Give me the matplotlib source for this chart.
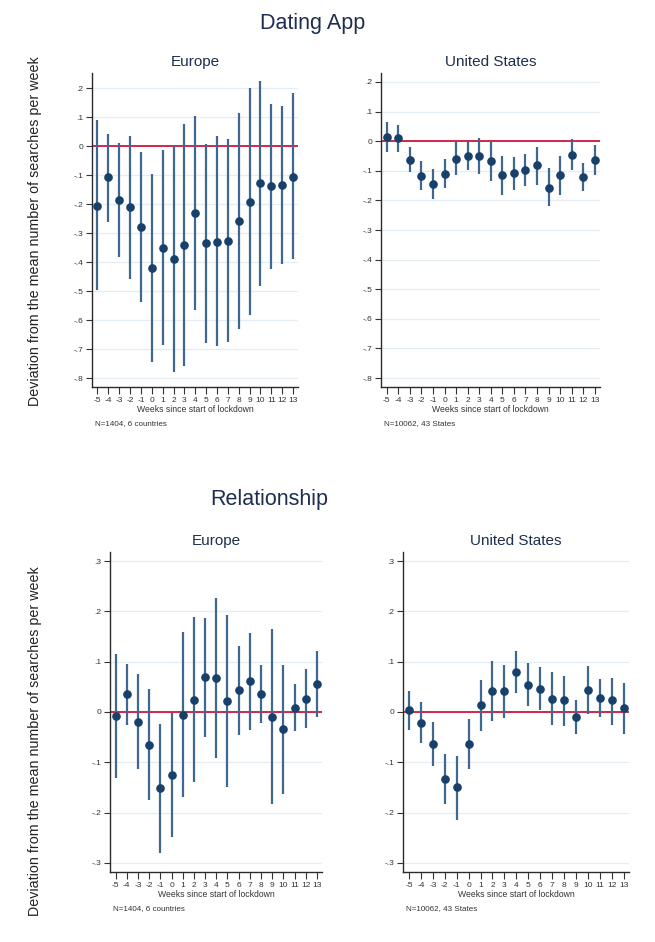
import matplotlib
matplotlib.use("Agg")
import matplotlib.pyplot as plt
import numpy as np

plt.rcParams['font.family'] = ['Liberation Sans', 'DejaVu Sans']

weeks = list(range(-5, 14))

# Dating App - Europe
dating_eu = [-0.205, -0.108, -0.187, -0.211, -0.278, -0.421, -0.350, -0.390, -0.342, -0.231,
             -0.336, -0.330, -0.328, -0.260, -0.193, -0.129, -0.139, -0.134, -0.105]
dating_eu_hi = [0.089, 0.040, 0.010, 0.033, -0.020, -0.095, -0.013, 0.001, 0.075, 0.103,
                0.008, 0.034, 0.026, 0.113, 0.199, 0.223, 0.144, 0.139, 0.183]
dating_eu_lo = [-0.496, -0.261, -0.384, -0.457, -0.538, -0.745, -0.686, -0.780, -0.760, -0.567,
                -0.680, -0.691, -0.676, -0.632, -0.583, -0.482, -0.423, -0.407, -0.390]

# Dating App - United States
dating_us = [0.014, 0.010, -0.063, -0.118, -0.145, -0.112, -0.060, -0.050, -0.051, -0.068,
             -0.114, -0.108, -0.097, -0.082, -0.157, -0.115, -0.047, -0.122, -0.064]
dating_us_hi = [0.063, 0.056, -0.020, -0.068, -0.094, -0.062, 0.000, 0.000, 0.009, 0.000,
                -0.049, -0.052, -0.043, -0.019, -0.092, -0.051, 0.006, -0.073, -0.014]
dating_us_lo = [-0.036, -0.036, -0.104, -0.166, -0.194, -0.158, -0.116, -0.099, -0.111, -0.133,
                -0.182, -0.165, -0.153, -0.147, -0.220, -0.182, -0.099, -0.169, -0.115]

# Relationship - Europe
rel_eu = [-0.007, 0.035, -0.019, -0.066, -0.152, -0.125, -0.005, 0.024, 0.070, 0.068,
          0.022, 0.043, 0.061, 0.036, -0.009, -0.034, 0.008, 0.026, 0.055]
rel_eu_hi = [0.116, 0.095, 0.075, 0.045, -0.023, -0.001, 0.159, 0.188, 0.187, 0.226,
             0.192, 0.131, 0.157, 0.094, 0.165, 0.094, 0.055, 0.086, 0.121]
rel_eu_lo = [-0.132, -0.025, -0.113, -0.175, -0.281, -0.248, -0.168, -0.140, -0.049, -0.091,
             -0.150, -0.046, -0.036, -0.021, -0.183, -0.162, -0.038, -0.032, -0.009]

# Relationship - United States
rel_us = [0.003, -0.021, -0.063, -0.133, -0.150, -0.063, 0.014, 0.042, 0.042, 0.079,
          0.054, 0.046, 0.026, 0.023, -0.010, 0.044, 0.027, 0.023, 0.007]
rel_us_hi = [0.042, 0.020, -0.020, -0.083, -0.088, -0.013, 0.064, 0.101, 0.094, 0.121,
             0.097, 0.089, 0.079, 0.072, 0.024, 0.092, 0.065, 0.068, 0.057]
rel_us_lo = [-0.036, -0.062, -0.107, -0.182, -0.215, -0.114, -0.038, -0.018, -0.012, 0.038,
             0.011, 0.003, -0.025, -0.027, -0.044, -0.003, -0.010, -0.025, -0.044]

top_yticks = [0.2, 0.1, 0, -0.1, -0.2, -0.3, -0.4, -0.5, -0.6, -0.7, -0.8]
bot_yticks = [0.3, 0.2, 0.1, 0, -0.1, -0.2, -0.3]

def stata_fmt(v):
    if abs(v) < 1e-9:
        return "0"
    s = f"{v:.1f}"
    s = s.replace("0.", ".")
    return s

W, H = 655, 942
fig = plt.figure(figsize=(W / 100, H / 100), dpi=100)
fig.patch.set_facecolor('white')

def pos(l, r, t, b):
    return [l / W, 1 - b / H, (r - l) / W, (b - t) / H]

BAR_C = '#3f6790'
DOT_C = '#17406a'
RED = '#d2153a'
GRID = '#e5edf4'
TXT = '#333333'
TITLE_C = '#1e2e50'

def panel(rect, y, hi, lo, ylim, yticks, title, note):
    ax = fig.add_axes(rect)
    ax.set_xlim(-5.5, 13.45)
    ax.set_ylim(*ylim)
    for yt in yticks:
        ax.axhline(yt, color=GRID, lw=0.9, zorder=0)
    ax.axhline(0, color=RED, lw=1.3, zorder=1)
    ax.vlines(weeks, lo, hi, color=BAR_C, lw=1.6, zorder=2)
    ax.plot(weeks, y, 'o', color=DOT_C, ms=5.2, zorder=3)
    for s in ['top', 'right']:
        ax.spines[s].set_visible(False)
    for s in ['left', 'bottom']:
        ax.spines[s].set_color('#2b2b2b')
        ax.spines[s].set_linewidth(1.0)
    ax.set_xticks(weeks)
    ax.set_xticklabels([str(w) for w in weeks])
    ax.set_yticks(yticks)
    ax.set_yticklabels([stata_fmt(v) for v in yticks])
    ax.tick_params(axis='both', labelsize=6, colors=TXT, length=4, width=0.8, pad=2)
    ax.tick_params(axis='x', length=5)
    ax.set_title(title, fontsize=11, color=TITLE_C, pad=5)
    ax.set_xlabel("Weeks since start of lockdown", fontsize=6.2, color=TXT, labelpad=1)
    ax.text(0.015, -0.115, note, transform=ax.transAxes, fontsize=5.8, color=TXT,
            ha='left', va='center')
    return ax

ax1 = panel(pos(92, 298, 73, 387), dating_eu, dating_eu_hi, dating_eu_lo,
            (-0.831, 0.252), top_yticks, "Europe", "N=1404, 6 countries")
ax2 = panel(pos(381, 600, 73, 387), dating_us, dating_us_hi, dating_us_lo,
            (-0.83, 0.23), top_yticks, "United States", "N=10062, 43 States")
ax3 = panel(pos(110, 322, 552, 872), rel_eu, rel_eu_hi, rel_eu_lo,
            (-0.318, 0.318), bot_yticks, "Europe", "N=1404, 6 countries")
ax4 = panel(pos(403, 629, 552, 872), rel_us, rel_us_hi, rel_us_lo,
            (-0.318, 0.318), bot_yticks, "United States", "N=10062, 43 States")

fig.text(313 / W, 1 - 23 / H, "Dating App", fontsize=15.5, color=TITLE_C, ha='center', va='center')
fig.text(269 / W, 1 - 500 / H, "Relationship", fontsize=15.5, color=TITLE_C, ha='center', va='center')

ylab = "Deviation from the mean number of searches per week"
fig.text(35 / W, 1 - 231 / H, ylab, rotation=90, fontsize=10.3, color='#222222', ha='center', va='center')
fig.text(35 / W, 1 - 741 / H, ylab, rotation=90, fontsize=10.3, color='#222222', ha='center', va='center')

fig.savefig("out.png", dpi=100, facecolor='white')
